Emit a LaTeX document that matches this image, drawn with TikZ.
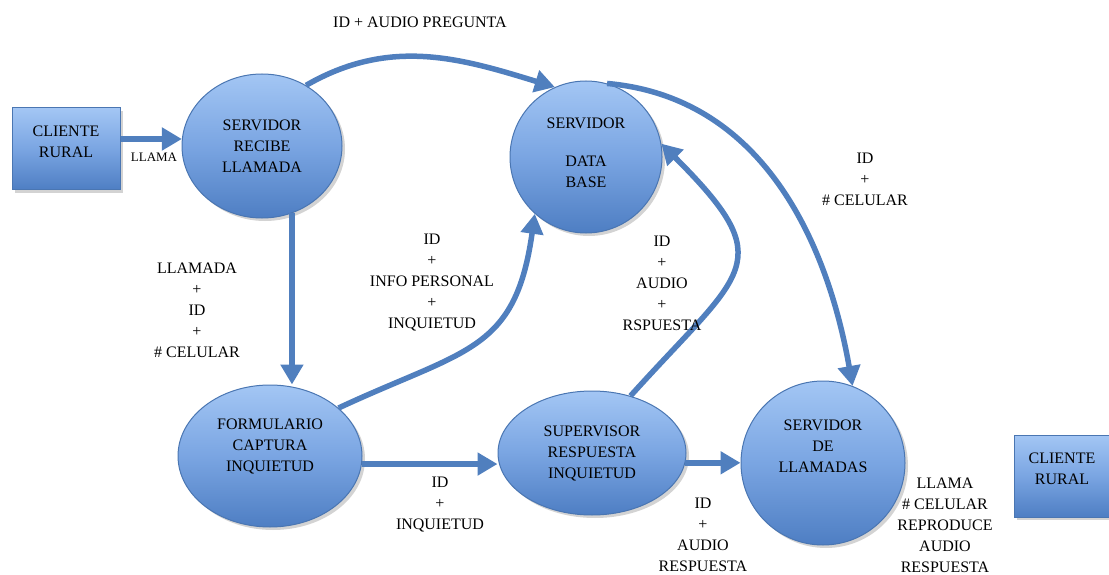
\documentclass[tikz,border=0pt]{standalone}
\usepackage{fontspec}
\setmainfont{Liberation Serif}
\usetikzlibrary{arrows.meta,shadows,calc}
\definecolor{ltop}{RGB}{163,198,244}
\definecolor{lbot}{RGB}{78,126,195}
\definecolor{lmid}{RGB}{122,165,226}
\definecolor{bord}{RGB}{74,118,178}
\definecolor{arr}{RGB}{80,127,190}
\tikzset{
  x=1pt,y=1pt,
  shapefill/.style={top color=ltop,bottom color=lbot,middle color=lmid,draw=bord,line width=1pt,
    drop shadow={opacity=0.35,shadow xshift=3pt,shadow yshift=-3pt}},
  ell/.style={shapefill,ellipse,inner sep=0pt,align=center,font=\fontsize{16}{21}\selectfont},
  boxnode/.style={shapefill,rectangle,inner sep=0pt,align=center,font=\fontsize{16}{21}\selectfont},
  lbl/.style={align=center,inner sep=0pt,font=\fontsize{16}{21}\selectfont},
  flow/.style={draw=arr,line width=5.5pt,-{Triangle[length=20pt,width=22pt]}}
}
\usetikzlibrary{shapes.geometric}
\begin{document}
\begin{tikzpicture}
\useasboundingbox (0,0) rectangle (1109,-575);
% nodes
\node[boxnode,minimum width=108,minimum height=82] (cl1) at (66,-149) {CLIENTE\\RURAL\\[-6pt]\mbox{}};
\node[ell,minimum width=160,minimum height=144] (recv) at (262,-146) {SERVIDOR\\RECIBE\\LLAMADA};
\node[ell,minimum width=152,minimum height=152] (db) at (586,-157) {SERVIDOR\\[17pt]DATA\\BASE\\[-12pt]\mbox{}};
\node[ell,minimum width=184,minimum height=142] (form) at (270,-456) {FORMULARIO\\CAPTURA\\INQUIETUD\\[1pt]\mbox{}};
\node[ell,minimum width=188,minimum height=124] (sup) at (592,-453) {SUPERVISOR\\RESPUESTA\\INQUIETUD};
\node[ell,minimum width=164,minimum height=164] (call) at (823,-463) {SERVIDOR\\DE\\LLAMADAS\\[13pt]\mbox{}};
\node[boxnode,minimum width=96,minimum height=82] (cl2) at (1062,-476) {CLIENTE\\RURAL\\[-6pt]\mbox{}};
% connectors
\draw[flow] (cl1.east |- recv.175) -- (recv.175);
\draw[flow] (recv.-66) -- (recv.-66 |- form.north);
\draw[flow] (recv.54) to[out=30,in=163] (db.114);
\draw[flow] (db.74) to[out=-5,in=100] (call.69);
\draw[flow] (form.35) .. controls +(25:140) and +(262:140) .. (db.228);
\draw[flow] (sup.56) .. controls +(48:170) and +(-45:170) .. (db.10);
\draw[flow] (form.-5) -- (form.-5 -| sup.west);
\draw[flow] (sup.-6) -- (sup.-6 -| call.west);
% labels
\node[lbl] (t1) at (420,-22) {ID + AUDIO PREGUNTA};
\node[lbl,font=\fontsize{13}{16}\selectfont] (t2) at (154,-157) {LLAMA};
\node[lbl] (t3) at (865,-179) {ID\\+\\\# CELULAR};
\node[lbl] (t4) at (197,-310) {LLAMADA\\+\\ID\\+\\\# CELULAR};
\node[lbl] (t5) at (432,-283) {ID\\+\\INFO PERSONAL\\+\\INQUIETUD};
\node[lbl] (t6) at (662,-283) {ID\\+\\AUDIO\\+\\RSPUESTA};
\node[lbl] (t7) at (440,-505) {ID\\+\\INQUIETUD};
\node[lbl] (t8) at (703,-535) {ID\\+\\AUDIO\\RESPUESTA};
\node[lbl] (t9) at (945,-525) {LLAMA\\\# CELULAR\\REPRODUCE\\AUDIO\\RESPUESTA};
\end{tikzpicture}
\end{document}
